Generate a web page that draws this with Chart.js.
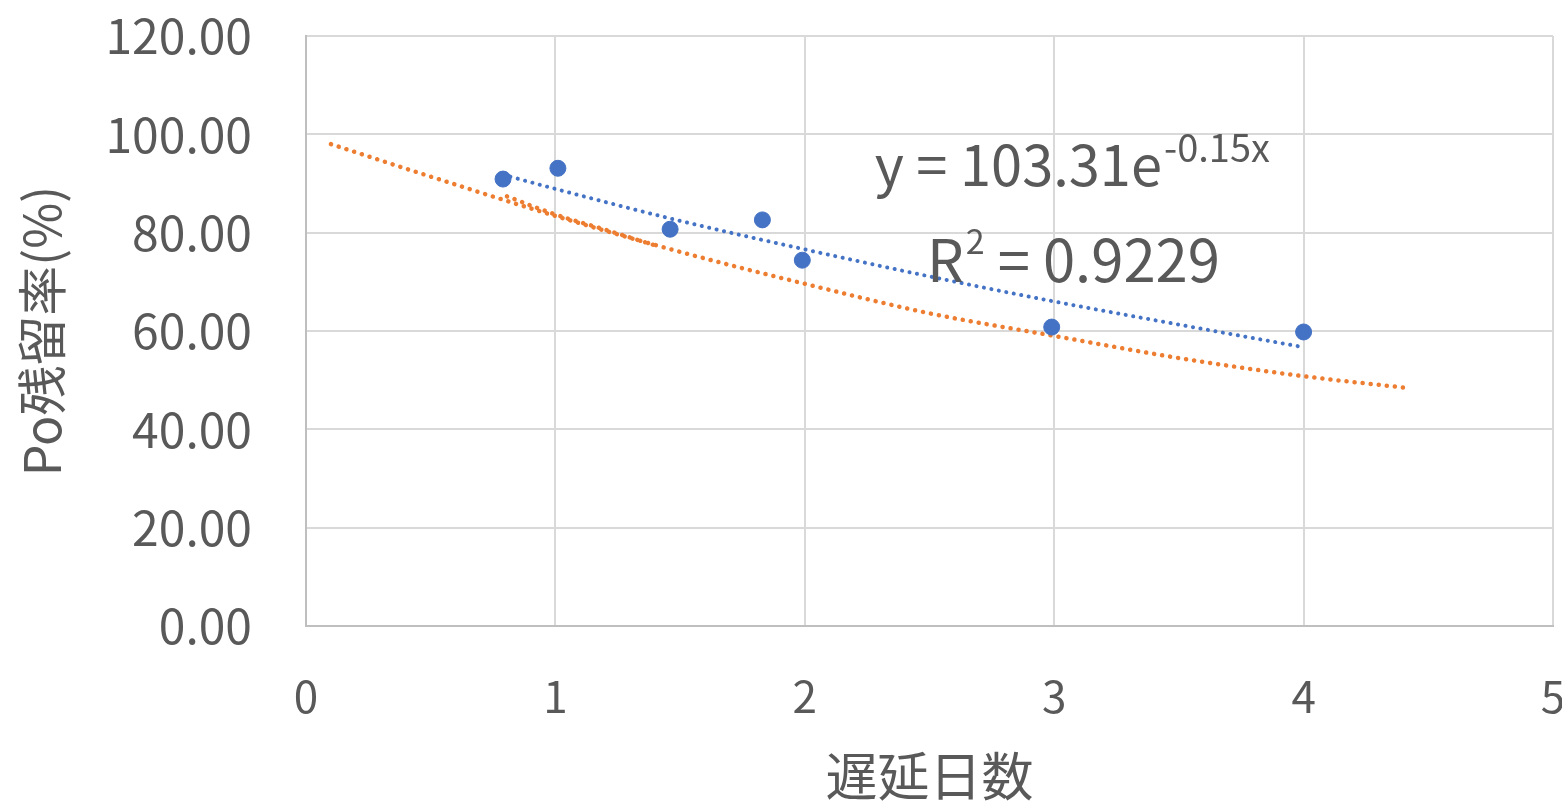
<!DOCTYPE html>
<html lang="ja">
<head>
<meta charset="UTF-8">
<title>Po残留率</title>
<script src="https://cdn.jsdelivr.net/npm/chart.js@4"></script>
<style>
    html, body { margin: 0; padding: 0; background: #ffffff; }
    #wrap { width: 1562px; height: 807px; }
</style>
</head>
<body>
<div id="wrap"><canvas id="grafico" width="1562" height="807"></canvas></div>
<script>
// Dados
const pontosX = [0.79, 1.01, 1.46, 1.83, 1.99, 2.99, 4.00];
const pontosY = [90.9, 93.1, 80.7, 82.6, 74.4, 60.8, 59.8];

// Linha de tendência azul (exponencial)
const tendAzulX = [0.79, 1.0, 1.5, 2.0, 2.5, 3.0, 3.5, 4.0];
const tendAzulY = [91.8, 88.9, 82.4, 76.6, 71.1, 66.0, 61.3, 56.7];

// Linha laranja
const tendLaranjaX = [0.1, 0.5, 1.0, 1.5, 2.0, 2.5, 3.0, 3.5, 4.0, 4.4];
const tendLaranjaY = [98.0, 91.4, 83.4, 76.1, 69.6, 63.6, 59.0, 54.5, 50.8, 48.5];

// Trecho laranja curto sobreposto
const trechoX = [0.79, 1.0, 1.2, 1.4];
const trechoY = [87.7, 83.7, 80.6, 77.4];

const equacao = { base: 'y = 103.31e', expoente: '-0.15x', x: 2.28, y: 89.5 };
const rQuadrado = { base: 'R', expoente: '2', resto: ' = 0.9229', x: 2.49, y: 70.0 };

const corTexto = '#595959';
const fonte = '"Noto Sans CJK JP", "Noto Sans", sans-serif';

function juntar(xs, ys) {
    return xs.map((x, i) => ({ x: x, y: ys[i] }));
}

// Plugin para os textos da equação
const textoEquacao = {
    id: 'textoEquacao',
    afterDatasetsDraw(chart) {
        const ctx = chart.ctx;
        const sx = chart.scales.x;
        const sy = chart.scales.y;
        ctx.save();
        ctx.fillStyle = corTexto;
        ctx.textBaseline = 'alphabetic';
        ctx.textAlign = 'left';

        let px = sx.getPixelForValue(equacao.x);
        let py = sy.getPixelForValue(equacao.y);
        ctx.font = '56px ' + fonte;
        ctx.fillText(equacao.base, px, py);
        px += ctx.measureText(equacao.base).width + 2;
        ctx.font = '38px ' + fonte;
        ctx.fillText(equacao.expoente, px, py - 24);

        px = sx.getPixelForValue(rQuadrado.x);
        py = sy.getPixelForValue(rQuadrado.y);
        ctx.font = '58px ' + fonte;
        ctx.fillText(rQuadrado.base, px, py);
        px += ctx.measureText(rQuadrado.base).width + 2;
        ctx.font = '34px ' + fonte;
        ctx.fillText(rQuadrado.expoente, px, py - 28);
        px += ctx.measureText(rQuadrado.expoente).width;
        ctx.font = '58px ' + fonte;
        ctx.fillText(rQuadrado.resto, px, py);
        ctx.restore();
    }
};

function criarGrafico() {
    const ctx = document.getElementById('grafico');

    new Chart(ctx, {
        type: 'scatter',
        data: {
            datasets: [
                {
                    label: 'Po残留率',
                    data: juntar(pontosX, pontosY),
                    backgroundColor: '#4472C4',
                    borderColor: '#4472C4',
                    pointRadius: 8,
                    order: 0
                },
                {
                    label: 'tendência',
                    data: juntar(tendAzulX, tendAzulY),
                    showLine: true,
                    borderColor: '#4472C4',
                    borderWidth: 4,
                    borderDash: [0.1, 7.5],
                    borderCapStyle: 'round',
                    pointRadius: 0,
                    tension: 0.4,
                    cubicInterpolationMode: 'monotone',
                    order: 1
                },
                {
                    label: 'laranja',
                    data: juntar(tendLaranjaX, tendLaranjaY),
                    showLine: true,
                    borderColor: '#ED7D31',
                    borderWidth: 4.5,
                    borderDash: [0.1, 8],
                    borderCapStyle: 'round',
                    pointRadius: 0,
                    tension: 0.4,
                    cubicInterpolationMode: 'monotone',
                    order: 2
                },
                {
                    label: 'laranja 2',
                    data: juntar(trechoX, trechoY),
                    showLine: true,
                    borderColor: '#ED7D31',
                    borderWidth: 4.5,
                    borderDash: [0.1, 8],
                    borderDashOffset: 4,
                    borderCapStyle: 'round',
                    pointRadius: 0,
                    tension: 0.4,
                    order: 3
                }
            ]
        },
        options: {
            responsive: false,
            animation: false,
            layout: {
                padding: { top: 36, right: 7, left: 0, bottom: 0 }
            },
            plugins: {
                legend: { display: false },
                tooltip: { enabled: false }
            },
            scales: {
                x: {
                    type: 'linear',
                    min: 0,
                    max: 5,
                    ticks: {
                        stepSize: 1,
                        color: corTexto,
                        font: { family: fonte, size: 44 },
                        padding: 44
                    },
                    grid: {
                        color: '#d9d9d9',
                        lineWidth: 2,
                        drawTicks: false
                    },
                    border: { color: '#bfbfbf', width: 2 },
                    title: {
                        display: true,
                        text: '遅延日数',
                        color: corTexto,
                        font: { family: fonte, size: 52 },
                        padding: { top: 20, bottom: 0 }
                    },
                    afterFit(scale) {
                        scale.height = 181;
                        scale.paddingLeft = 0;
                        scale.paddingRight = 0;
                    }
                },
                y: {
                    min: 0,
                    max: 120,
                    ticks: {
                        stepSize: 20,
                        color: corTexto,
                        font: { family: fonte, size: 48 },
                        padding: 54,
                        callback: v => v.toFixed(2)
                    },
                    grid: {
                        color: '#d9d9d9',
                        lineWidth: 2,
                        drawTicks: false
                    },
                    border: { color: '#bfbfbf', width: 2 },
                    title: {
                        display: true,
                        text: 'Po残留率(%)',
                        color: corTexto,
                        font: { family: fonte, size: 50 },
                        padding: { top: 12, bottom: 0 }
                    },
                    afterFit(scale) {
                        scale.width = 306;
                        scale.paddingTop = 0;
                        scale.paddingBottom = 0;
                    }
                }
            }
        },
        plugins: [textoEquacao]
    });
}

document.addEventListener('DOMContentLoaded', criarGrafico);
</script>
</body>
</html>
